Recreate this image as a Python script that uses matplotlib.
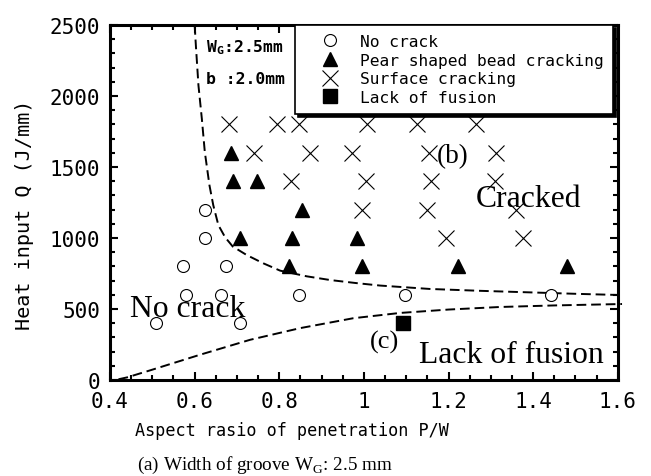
import matplotlib
matplotlib.use("Agg")
import matplotlib.pyplot as plt

# Résultats des essais : rapport P/W et apport de chaleur Q (J/mm)
no_crack_x = [0.508, 0.573, 0.580, 0.624, 0.624, 0.663, 0.674, 0.708, 0.846, 1.097, 1.441]
no_crack_y = [400, 800, 600, 1200, 1000, 600, 800, 400, 600, 600, 600]

pear_x = [0.685, 0.691, 0.748, 0.707, 0.853, 0.831, 0.824, 0.983, 0.996, 1.223, 1.479]
pear_y = [1600, 1400, 1400, 1000, 1200, 1000, 800, 1000, 800, 800, 800]

surface_x = [0.680, 0.794, 0.847, 1.008, 1.126, 1.266,
             0.740, 0.872, 0.973, 1.154, 1.313,
             0.827, 1.004, 1.158, 1.310,
             0.996, 1.148, 1.360,
             1.194, 1.375]
surface_y = [1800] * 6 + [1600] * 5 + [1400] * 4 + [1200] * 3 + [1000] * 2

fusion_x = [1.093]
fusion_y = [400]

# Limites tracées à la main (pointillés)
upper_x = [0.600, 0.603, 0.609, 0.617, 0.624, 0.635, 0.644, 0.656, 0.672, 0.690,
           0.723, 0.762, 0.802, 0.865, 0.920, 0.980, 1.038, 1.156, 1.274, 1.392,
           1.510, 1.610]
upper_y = [2500, 2350, 2074, 1840, 1606, 1371, 1231, 1091, 1005, 940,
           880, 822, 770, 730, 704, 683, 665, 641, 628, 617,
           606, 598]
lower_x = [0.420, 0.440, 0.495, 0.613, 0.731, 0.849, 0.975, 1.085, 1.200, 1.321, 1.450, 1.610]
lower_y = [5, 18, 68, 178, 283, 365, 435, 472, 496, 514, 525, 535]

xticks = [0.4, 0.6, 0.8, 1.0, 1.2, 1.4, 1.6]
xtick_labels = ["0.4", "0.6", "0.8", "1", "1.2", "1.4", "1.6"]
yticks = [0, 500, 1000, 1500, 2000, 2500]

mono = "DejaVu Sans Mono"
serif = "Liberation Serif"

fig = plt.figure(figsize=(6.51, 4.77), dpi=100)
ax = fig.add_axes([0.169, 0.2013, 0.780, 0.7442])

ax.plot(upper_x, upper_y, color="k", lw=1.4, dashes=(5, 2.5), clip_on=False)
ax.plot(lower_x, lower_y, color="k", lw=1.4, dashes=(5, 2.5), clip_on=False)

ax.plot(no_crack_x, no_crack_y, ls="none", marker="o", ms=8.6, mfc="white", mec="k", mew=0.8,
        label="No crack")
ax.plot(pear_x, pear_y, ls="none", marker="^", ms=10, color="k", label="Pear shaped bead cracking")
ax.plot(surface_x, surface_y, ls="none", marker="x", ms=11, color="k", mew=0.8,
        label="Surface cracking")
ax.plot(fusion_x, fusion_y, ls="none", marker="s", ms=10, color="k", label="Lack of fusion")

ax.set_xlim(0.4, 1.6)
ax.set_ylim(0, 2500)
ax.set_xticks(xticks)
ax.set_xticklabels(xtick_labels, family=mono, fontsize=15)
ax.set_yticks(yticks)
ax.set_yticklabels([str(v) for v in yticks], family=mono, fontsize=15)
ax.set_xticks([0.4 + 0.05 * i for i in range(25)], minor=True)
ax.set_yticks(list(range(0, 2600, 100)), minor=True)
ax.tick_params(which="both", direction="in", top=True, right=True, width=1.5)
ax.tick_params(which="major", length=6)
ax.tick_params(which="minor", length=3.5)
ax.tick_params(axis="y", pad=7)
ax.tick_params(axis="x", pad=8)
for sp in ax.spines.values():
    sp.set_linewidth(2.2)

leg = ax.legend(loc="upper right", bbox_to_anchor=(1 - 5 / 508, 1), borderaxespad=0,
                prop={"family": mono, "size": 11.7}, fancybox=False,
                shadow={"color": "k", "alpha": 1}, framealpha=1, edgecolor="k",
                labelspacing=0.23, borderpad=0.55, handlelength=3.2, handletextpad=0.25,
                numpoints=1)
leg.get_frame().set_linewidth(1.2)

ax.text(0.626, 2345, "W$_\\mathregular{G}$:2.5mm", family=mono, fontweight="bold",
        fontsize=11.8, va="center")
ax.text(0.626, 2120, "b :2.0mm", family=mono, fontweight="bold", fontsize=11.8, va="center")

ax.text(0.447, 450, "No crack", family=serif, fontsize=22.8)
ax.text(1.265, 1225, "Cracked", family=serif, fontsize=22.8)
ax.text(1.172, 1535, "(b)", family=serif, fontsize=19.5)
ax.text(1.013, 230, "(c)", family=serif, fontsize=19)
ax.text(1.131, 125, "Lack of fusion", family=serif, fontsize=22.8)

fig.text(292 / 651, 1 - 431 / 477, "Aspect rasio of penetration P/W", family=mono,
         fontsize=12.1, ha="center", va="center")
fig.text(25 / 651, 1 - 215 / 477, "Heat input Q (J/mm)", family=mono, fontsize=14.5,
         rotation=90, ha="center", va="center")
fig.text(265 / 651, 1 - 470 / 477, "(a) Width of groove W$_\\mathregular{G}$: 2.5 mm",
         family=serif, fontsize=13.8, ha="center", va="baseline")

fig.savefig("out.png", dpi=100)
